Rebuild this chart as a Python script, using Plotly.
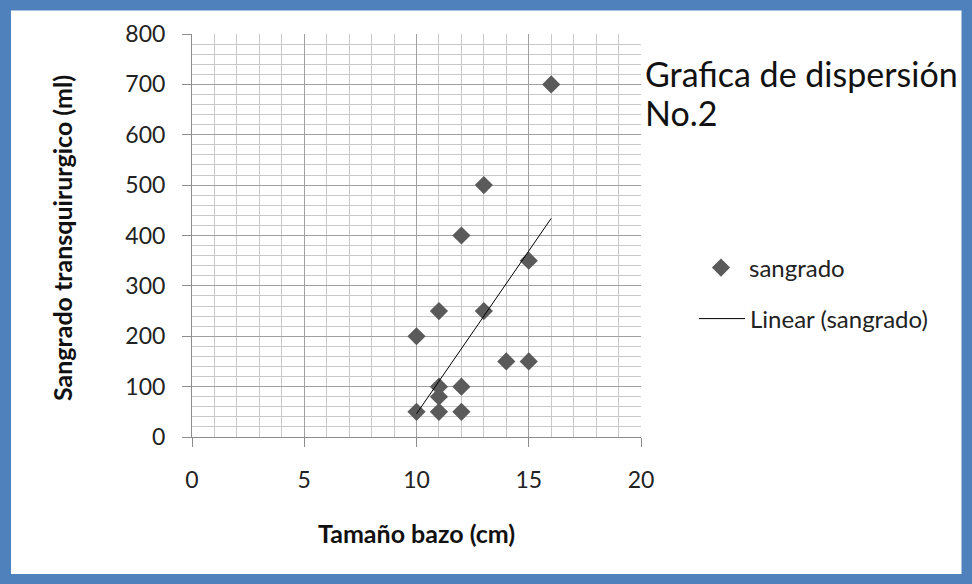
import plotly.graph_objects as go

# Data
tamano_bazo = [10, 11, 12, 11, 11, 12, 10, 11, 13, 12, 13, 14, 15, 15, 16]
sangrado = [50, 50, 50, 80, 100, 100, 200, 250, 250, 400, 500, 150, 150, 350, 700]

# Linear trendline endpoints (as drawn in the reference)
trend_x = [10, 16]
trend_y = [46, 434]

x_ticks = [0, 5, 10, 15, 20]
y_ticks = [0, 100, 200, 300, 400, 500, 600, 700, 800]

title_lines = ["Grafica de dispersión", "No.2"]

FONT = "Lato"
W, H = 972, 584
L, R, T, B = 192, 331, 34, 147
PW = W - L - R
PH = H - T - B


def px(xp):
    return (xp - L) / PW


def py(yp):
    return (H - B - yp) / PH


fig = go.Figure()
fig.add_trace(go.Scatter(
    x=tamano_bazo, y=sangrado, mode="markers", name="sangrado",
    marker=dict(symbol="diamond", size=14, color="#5a5a5a"),
    legend="legend",
))
fig.add_trace(go.Scatter(
    x=trend_x, y=trend_y, mode="lines", name="Linear (sangrado)",
    line=dict(color="#000000", width=1),
    legend="legend2",
))

axis_common = dict(
    showline=True, linecolor="#8c8c8c", linewidth=1,
    ticks="outside", ticklen=9, tickcolor="#8c8c8c",
    gridcolor="#a0a0a0", gridwidth=1,
    zeroline=False, mirror=False,
    tickfont=dict(family=FONT, size=23, color="#222222"),
)

fig.update_layout(
    width=W, height=H,
    margin=dict(l=L, r=R, t=T, b=B),
    paper_bgcolor="white", plot_bgcolor="white",
    font=dict(family=FONT, color="#222222"),
    xaxis=dict(
        range=[0, 20], tickvals=x_ticks, ticktext=[str(v) for v in x_ticks],
        ticklabelstandoff=13,
        minor=dict(dtick=1, showgrid=True, gridcolor="#c8c8c8", gridwidth=1, ticks=""),
        **axis_common,
    ),
    yaxis=dict(
        range=[0, 800], tickvals=y_ticks, ticktext=[str(v) for v in y_ticks],
        ticklabelstandoff=12,
        minor=dict(dtick=20, showgrid=True, gridcolor="#c8c8c8", gridwidth=1, ticks=""),
        **axis_common,
    ),
    legend=dict(
        x=px(693), y=py(268), xanchor="left", yanchor="middle",
        itemwidth=46,
        font=dict(family=FONT, size=24, color="#222222"),
        bgcolor="rgba(0,0,0,0)",
    ),
    legend2=dict(
        x=px(694), y=py(319), xanchor="left", yanchor="middle",
        itemwidth=46,
        font=dict(family=FONT, size=24, color="#222222"),
        bgcolor="rgba(0,0,0,0)",
    ),
    showlegend=True,
)

# Title at top right (two lines)
for i, line in enumerate(title_lines):
    fig.add_annotation(
        text=line, xref="paper", yref="paper",
        x=px(643), y=py(73 + 39 * i), xanchor="left", yanchor="middle", align="left",
        showarrow=False, font=dict(family=FONT, size=34, color="#111111"),
    )
# Axis titles
fig.add_annotation(
    text="<b>Tamaño bazo (cm)</b>", xref="paper", yref="paper",
    x=px(416), y=py(533), xanchor="center", yanchor="middle",
    showarrow=False, font=dict(family=FONT, size=25, color="#111111"),
)
fig.add_annotation(
    text="<b>Sangrado transquirurgico (ml)</b>", xref="paper", yref="paper",
    x=px(62), y=py(238), xanchor="center", yanchor="middle", textangle=-90,
    showarrow=False, font=dict(family=FONT, size=25, color="#111111"),
)

# Blue frame around the chart
fig.add_shape(
    type="rect", xref="paper", yref="paper",
    x0=px(5.5), x1=px(967), y0=py(5), y1=py(579.5),
    line=dict(color="#4f81bd", width=11), fillcolor="rgba(0,0,0,0)",
    layer="above",
)

fig.write_html("out.html")
